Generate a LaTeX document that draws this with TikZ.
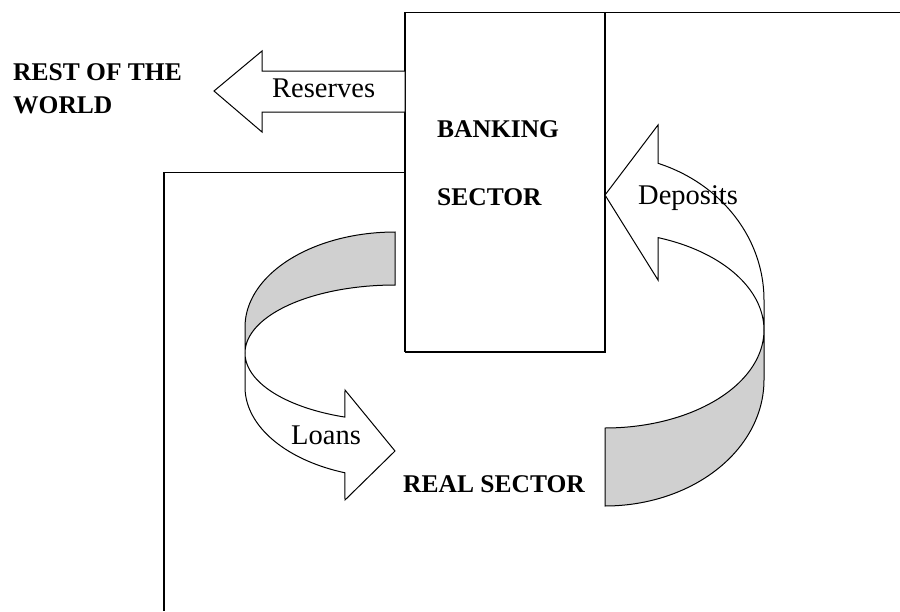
\documentclass[tikz,border=0pt]{standalone}
\usepackage{fontspec}
\setmainfont{Liberation Serif}
\definecolor{ribbongray}{RGB}{208,208,208}
\begin{document}
\begin{tikzpicture}[x=1pt,y=-1pt,
  ribbon/.style={draw=black,line width=1pt,line join=miter},
  backface/.style={ribbon,fill=ribbongray},
  frontface/.style={ribbon,fill=white},
  frame/.style={draw=black,line width=1.8pt},
  lbl/.style={anchor=base west,inner sep=0pt,font=\fontsize{28.5}{34}\selectfont},
  blbl/.style={anchor=base west,inner sep=0pt,font=\fontsize{25.5}{30}\selectfont\bfseries},
]
\useasboundingbox (0,0) rectangle (900,611);

% frame lines
\coordinate (boxBL) at (405,352);
\coordinate (boxTL) at (405,12.5);
\coordinate (boxTR) at (605,12.5);
\coordinate (boxBR) at (605,352);
\coordinate (topEnd) at (900,12.5);
\coordinate (lJoin) at (405,172.5);
\coordinate (lCorner) at (164,172.5);
\coordinate (lEnd) at (164,611);
\draw[frame] (boxBL) -- (boxTL) -- (topEnd);
\draw[frame] (boxTR) -- (boxBR) -- (boxBL);
\draw[frame] (lJoin) -- (lCorner) -- (lEnd);

% Reserves arrow
\draw[frontface] (405,71) -- (262,71) -- (262,51) -- (214,91) -- (262,132) -- (262,112) -- (405,112) -- cycle;

% Deposits ribbon arrow (right)
\draw[backface] plot[domain=-90:0,samples=50] ({605+159*cos(\x)},{330-98*sin(\x)})
  -- (764,380)
  -- plot[domain=0:-90,samples=50] ({605+159*cos(\x)},{380-126*sin(\x)}) -- cycle;
\draw[frontface] (658,163) -- (658,125) -- (605,195) -- (658,280) -- (658,238)
  -- plot[domain=70.5:0,samples=50] ({605+159*cos(\x)},{330-98*sin(\x)})
  -- (764,300)
  -- plot[domain=0:70.5,samples=50] ({605+159*cos(\x)},{300-145*sin(\x)}) -- cycle;

% Loans ribbon arrow (left)
\draw[backface] plot[domain=90:180,samples=50] ({395+150*cos(\x)},{327-95*sin(\x)})
  -- (245,353)
  -- plot[domain=180:90,samples=50] ({395+150*cos(\x)},{353-68*sin(\x)}) -- cycle;
\draw[frontface] (245,353)
  -- plot[domain=180:250.5,samples=50] ({395+150*cos(\x)},{353-68*sin(\x)})
  -- (345,390) -- (395,451) -- (345,500)
  -- plot[domain=250.5:180,samples=50] ({395+150*cos(\x)},{387-91*sin(\x)}) -- cycle;

% labels
\node[blbl] (rest) at (13,80) {REST OF THE};
\node[blbl] (world) at (13,113) {WORLD};
\node[lbl] (reserves) at (272,97) {Reserves};
\node[blbl] (banking) at (437,137) {BANKING};
\node[blbl] (sector) at (437,205) {SECTOR};
\node[lbl] (deposits) at (638,204) {Deposits};
\node[lbl] (loans) at (291,444) {Loans};
\node[blbl] (real) at (403,492) {REAL SECTOR};
\end{tikzpicture}
\end{document}
